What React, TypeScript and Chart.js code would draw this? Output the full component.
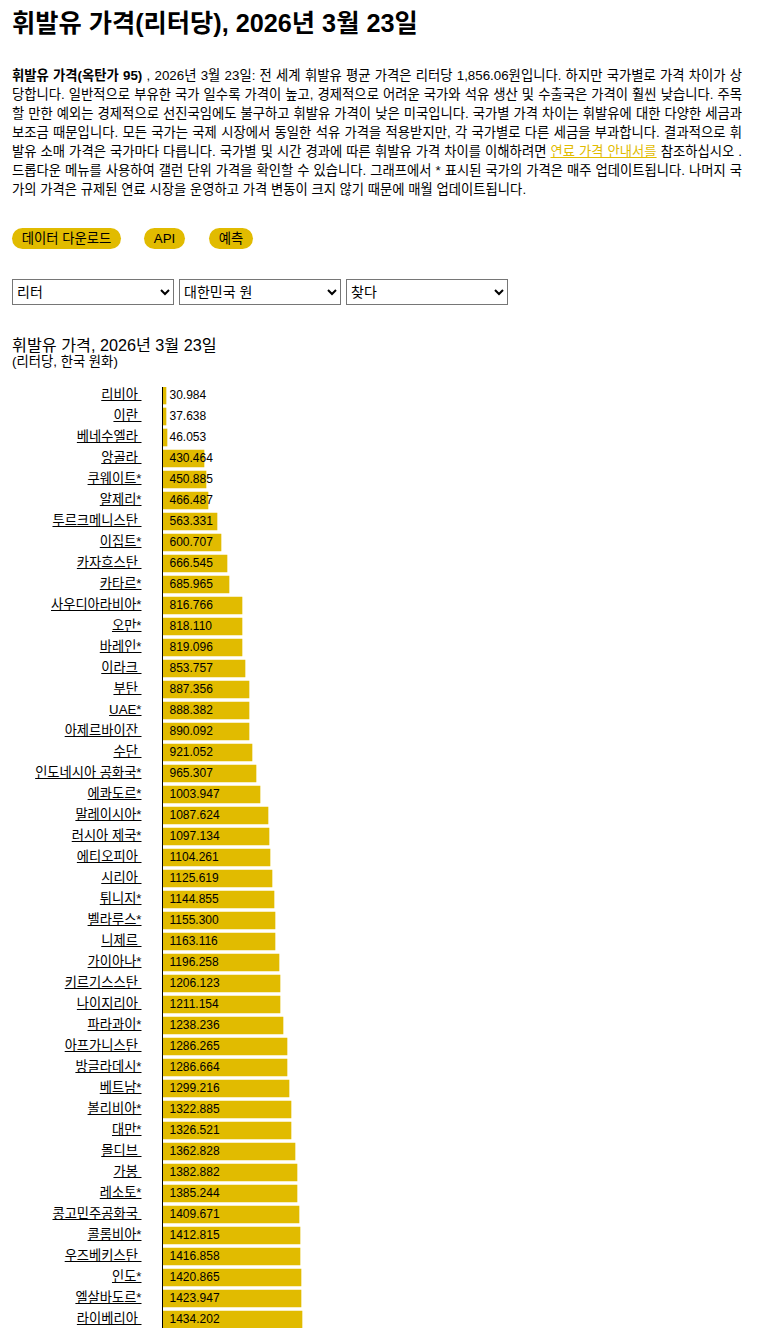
import React, { useEffect, useRef } from "react";
import { Chart, registerables } from "chart.js";

Chart.register(...registerables);

const categories = ["리비아 ", "이란 ", "베네수엘라 ", "앙골라 ", "쿠웨이트*", "알제리*", "투르크메니스탄 ", "이집트*", "카자흐스탄 ", "카타르*", "사우디아라비아*", "오만*", "바레인*", "이라크 ", "부탄 ", "UAE*", "아제르바이잔 ", "수단 ", "인도네시아 공화국*", "에콰도르*", "말레이시아*", "러시아 제국*", "에티오피아 ", "시리아 ", "튀니지*", "벨라루스*", "니제르 ", "가이아나*", "키르기스스탄 ", "나이지리아 ", "파라과이*", "아프가니스탄 ", "방글라데시*", "베트남*", "볼리비아*", "대만*", "몰디브 ", "가봉 ", "레소토*", "콩고민주공화국 ", "콜롬비아*", "우즈베키스탄 ", "인도*", "엘살바도르*", "라이베리아 "];
const prices = [30.984, 37.638, 46.053, 430.464, 450.885, 466.487, 563.331, 600.707, 666.545, 685.965, 816.766, 818.11, 819.096, 853.757, 887.356, 888.382, 890.092, 921.052, 965.307, 1003.947, 1087.624, 1097.134, 1104.261, 1125.619, 1144.855, 1155.3, 1163.116, 1196.258, 1206.123, 1211.154, 1238.236, 1286.265, 1286.664, 1299.216, 1322.885, 1326.521, 1362.828, 1382.882, 1385.244, 1409.671, 1412.815, 1416.858, 1420.865, 1423.947, 1434.202];

const heading = "휘발유 가격(리터당), 2026년 3월 23일";
const chartTitle = "휘발유 가격, 2026년 3월 23일";
const chartSubtitle = "(리터당, 한국 원화)";
const buttons = ["데이터 다운로드", "API", "예측"];
const unitOptions = ["리터", "대한민국 원", "찾다"];

const GOLD = "#e1bb00";
const FONT = '"Liberation Sans", "Noto Sans CJK KR", sans-serif';

const labelPlugin = {
  id: "labels",
  beforeDraw(chart: any) {
    const { ctx, width, height } = chart;
    ctx.save();
    ctx.fillStyle = "#fff";
    ctx.fillRect(0, 0, width, height);
    ctx.restore();
  },
  beforeDatasetsDraw(chart: any) {
    chart.getDatasetMeta(0).data.forEach((el: any) => {
      el.x = Math.floor(el.x);
    });
  },
  afterDraw(chart: any) {
    const { ctx, scales, chartArea } = chart;
    const x = scales.x;
    const y = scales.y;
    ctx.save();
    ctx.fillStyle = "#000";
    ctx.fillRect(x.left - 1, chartArea.top, 1, chartArea.bottom - chartArea.top);
    ctx.textBaseline = "middle";
    ctx.textAlign = "left";
    ctx.font = `12px ${FONT}`;
    prices.forEach((v, i) => {
      ctx.fillText(v.toFixed(3), x.left + 6.5, y.getPixelForTick(i) + 0.5);
    });
    ctx.font = `13.25px ${FONT}`;
    categories.forEach((c, i) => {
      const w = ctx.measureText(c).width;
      const yy = Math.round(y.getPixelForTick(i) + 4.5);
      ctx.fillRect(x.left - 21.5 - w, yy, w, 1);
    });
    ctx.restore();
  },
};

const s: Record<string, React.CSSProperties> = {
  abs: { position: "absolute", margin: 0 },
};

const lines = [
  <><b>휘발유 가격(옥탄가 95)</b> , 2026년 3월 23일: 전 세계 휘발유 평균 가격은 리터당 1,856.06원입니다. 하지만 국가별로 가격 차이가 상</>,
  <>당합니다. 일반적으로 부유한 국가 일수록 가격이 높고, 경제적으로 어려운 국가와 석유 생산 및 수출국은 가격이 훨씬 낮습니다. 주목</>,
  <>할 만한 예외는 경제적으로 선진국임에도 불구하고 휘발유 가격이 낮은 미국입니다. 국가별 가격 차이는 휘발유에 대한 다양한 세금과</>,
  <>보조금 때문입니다. 모든 국가는 국제 시장에서 동일한 석유 가격을 적용받지만, 각 국가별로 다른 세금을 부과합니다. 결과적으로 휘</>,
  <>발유 소매 가격은 국가마다 다릅니다. 국가별 및 시간 경과에 따른 휘발유 가격 차이를 이해하려면 <a href="#" style={{ color: GOLD }}>연료 가격 안내서를</a> 참조하십시오 .</>,
  <>드롭다운 메뉴를 사용하여 갤런 단위 가격을 확인할 수 있습니다. 그래프에서 * 표시된 국가의 가격은 매주 업데이트됩니다. 나머지 국</>,
];
const lastLine = "가의 가격은 규제된 연료 시장을 운영하고 가격 변동이 크지 않기 때문에 매월 업데이트됩니다.";

const buttonBoxes = [[12, 109], [144, 41], [209, 44]];
const selectLefts = [12, 179, 346];

export default function App() {
  const ref = useRef<HTMLCanvasElement>(null);
  useEffect(() => {
    document.documentElement.style.overflow = "hidden";
    const canvas = ref.current!;
    canvas.getContext("2d", { alpha: false });
    const chart = new Chart(canvas, {
      type: "bar",
      data: {
        labels: categories,
        datasets: [{ data: prices, backgroundColor: GOLD, barThickness: 17, borderWidth: 0 }],
      },
      options: {
        indexAxis: "y",
        animation: false,
        responsive: false,
        maintainAspectRatio: false,
        devicePixelRatio: 1,
        layout: { padding: 0 },
        plugins: { legend: { display: false }, tooltip: { enabled: false }, title: { display: false } },
        scales: {
          x: { display: false, min: 0, max: 6166 },
          y: {
            afterFit: (scale: any) => {
              scale.width = 163;
              scale.paddingTop = 0;
              scale.paddingBottom = 0;
            },
            grid: { display: false, drawTicks: false },
            border: { display: false },
            ticks: { autoSkip: false, padding: 21.5, color: "#000", font: { family: FONT, size: 13.25 } },
          },
        },
      },
      plugins: [labelPlugin],
    } as any);
    return () => chart.destroy();
  }, []);

  return (
    <div style={{ fontFamily: FONT, color: "#000" }}>
      <h1 style={{ ...s.abs, left: 12, top: 9, fontSize: 25.25, lineHeight: "28px", fontWeight: 700, whiteSpace: "nowrap" }}>{heading}</h1>
      <div style={{ ...s.abs, left: 12, top: 66, width: 730, fontSize: 13.33, lineHeight: "19px" }}>
        {lines.map((l, i) => (
          <div key={i} style={{ textAlign: "justify", textAlignLast: "justify", whiteSpace: "nowrap" }}>{l}</div>
        ))}
        <div>{lastLine}</div>
      </div>
      {buttons.map((b, i) => (
        <div key={b} style={{ ...s.abs, left: buttonBoxes[i][0], top: 228, width: buttonBoxes[i][1], height: 21, borderRadius: 11, background: GOLD, fontSize: 13.33, lineHeight: "21px", textAlign: "center", whiteSpace: "nowrap" }}>{b}</div>
      ))}
      {unitOptions.map((o, i) => (
        <select key={o} style={{ ...s.abs, left: selectLefts[i], top: 279, width: 162, height: 26, fontSize: 14, fontFamily: FONT, background: "#fff" }}>
          <option>{o}</option>
        </select>
      ))}
      <div style={{ ...s.abs, left: 12, top: 335, fontSize: 16.2, lineHeight: "20px", whiteSpace: "nowrap" }}>{chartTitle}</div>
      <div style={{ ...s.abs, left: 12, top: 354, fontSize: 13.33, lineHeight: "16px", whiteSpace: "nowrap" }}>{chartSubtitle}</div>
      <div style={{ ...s.abs, left: 0, top: 387, width: 762, height: 941, overflow: "hidden" }}>
        <canvas ref={ref} width={762} height={945} style={{ display: "block", marginTop: -2 }} />
      </div>
    </div>
  );
}
